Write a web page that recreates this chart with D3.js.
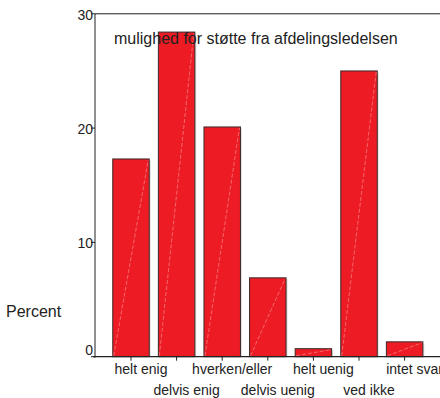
<!DOCTYPE html>
<html><head><meta charset="utf-8">
<script src="https://cdn.jsdelivr.net/npm/d3@7"></script>
<style>body{margin:0;background:#fff}svg{display:block}text{font-family:"Liberation Sans",Arial,sans-serif;fill:#222}</style>
</head><body>
<script>
const categories = ["helt enig","delvis enig","hverken/eller","delvis uenig","helt uenig","ved ikke","intet svar"];
const percents = [17.3, 28.4, 20.1, 6.9, 0.7, 25.0, 1.3];
const yTicks = [0, 10, 20, 30];
const title = "mulighed for støtte fra afdelingsledelsen";
const yLabel = "Percent";

const W = 440, H = 398;
const svg = d3.select("body").append("svg").attr("width", W).attr("height", H);

const y = d3.scaleLinear().domain([0, 30]).range([356.7, 13.8]);
const x = d3.scaleBand().domain(categories).range([108.2, 427.4]).paddingInner(0.2).paddingOuter(0.1);

// frame line (top)
svg.append("line").attr("x1", 95).attr("x2", 440).attr("y1", y(30)).attr("y2", y(30)).attr("stroke", "#222").attr("stroke-width", 1);

// bars
const g = svg.append("g");
categories.forEach((c, i) => {
  const x0 = x(c), bw = x.bandwidth(), top = y(percents[i]), bot = y(0);
  g.append("rect").attr("x", x0 + 1.5).attr("y", top + 1.5).attr("width", bw).attr("height", bot - top - 1.5)
    .attr("fill", "#c8c8c8").attr("opacity", 0.6);
  g.append("rect").attr("x", x0).attr("y", top).attr("width", bw).attr("height", bot - top)
    .attr("fill", "#ed1c24").attr("stroke", "#3a2a2a").attr("stroke-width", 1);
  g.append("line").attr("x1", x0 + 1).attr("y1", bot - 1).attr("x2", x0 + bw - 1).attr("y2", top + 1)
    .attr("stroke", "#f5868a").attr("stroke-width", 0.7).attr("stroke-dasharray", "4,2");
});

// y axis
svg.append("line").attr("x1", 95).attr("x2", 95).attr("y1", y(30)).attr("y2", y(0) + 1).attr("stroke", "#222");
yTicks.forEach(t => {
  svg.append("line").attr("x1", 91).attr("x2", 95).attr("y1", y(t)).attr("y2", y(t)).attr("stroke", "#222");
  svg.append("text").attr("x", 93).attr("y", y(t) + (t === 0 ? -7 : 1)).attr("dy", "0.35em").attr("text-anchor", "end")
    .attr("font-size", 14).text(t);
});

// x axis
svg.append("line").attr("x1", 93).attr("x2", 440).attr("y1", y(0)).attr("y2", y(0)).attr("stroke", "#222").attr("stroke-width", 1.2);
categories.forEach((c, i) => {
  const cx = x(c) + x.bandwidth() / 2;
  svg.append("line").attr("x1", cx).attr("x2", cx).attr("y1", y(0)).attr("y2", y(0) + 4).attr("stroke", "#222");
  svg.append("text").attr("x", cx + 10).attr("y", i % 2 === 0 ? 373.5 : 395).attr("text-anchor", "middle")
    .attr("font-size", 14).text(c);
});

svg.append("text").attr("x", 6).attr("y", 317).attr("font-size", 16).text(yLabel);
svg.append("text").attr("x", 114).attr("y", 43.5).attr("font-size", 16).text(title);
</script>
</body></html>
